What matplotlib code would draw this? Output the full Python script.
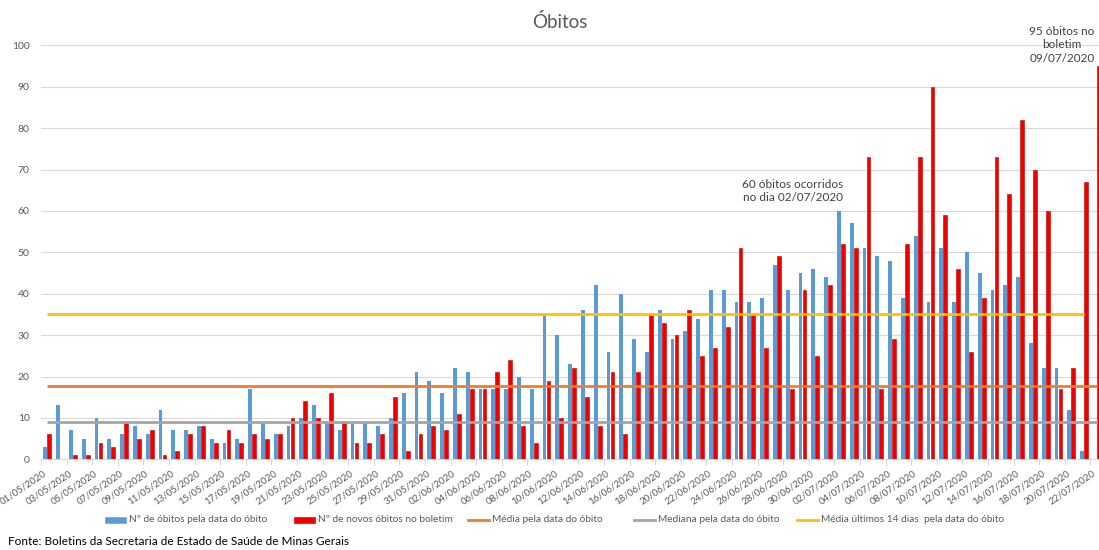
import matplotlib
matplotlib.use("Agg")
import matplotlib.pyplot as plt
from matplotlib.lines import Line2D
from matplotlib.patches import Rectangle
import numpy as np
import pandas as pd

plt.rcParams['font.family'] = ['Lato', 'DejaVu Sans']

dates = [d.strftime('%d/%m/%Y') for d in pd.date_range('2020-05-01', '2020-07-22')]

obitos_data = [3, 13, 7, 5, 10, 5, 6, 8, 6, 12, 7, 7, 8, 5, 4, 5, 17, 9, 6,
               8, 10, 13, 9, 7, 9, 9, 8, 10, 16, 21, 19, 16, 22, 21, 17, 17, 17, 20, 17,
               35, 30, 23, 36, 42, 26, 40, 29, 26, 36, 29, 31, 34, 41, 41, 38, 38, 39, 47, 41, 45, 46,
               44, 60, 57, 51, 49, 48, 39, 54, 38, 51, 38, 50, 45, 41, 42, 44, 28, 22, 22, 12, 2, 0]
novos_boletim = [6, 0, 1, 1, 4, 3, 9, 5, 7, 1, 2, 6, 8, 4, 7, 4, 6, 5, 6,
                 10, 14, 10, 16, 9, 4, 4, 6, 15, 2, 6, 8, 7, 11, 17, 17, 21, 24, 8, 4,
                 19, 10, 22, 15, 8, 21, 6, 21, 35, 33, 30, 36, 25, 27, 32, 51, 35, 27, 49, 17, 41, 25,
                 42, 52, 51, 73, 17, 29, 52, 73, 90, 59, 46, 26, 39, 73, 64, 82, 70, 60, 17, 22, 67, 95]
media = 17.6
mediana = 9
media_14 = 35

series_names = ['Nº de óbitos pela data do óbito', 'Nº de novos óbitos no boletim',
                'Média pela data do óbito', 'Mediana pela data do óbito',
                'Média últimos 14 dias  pela data do óbito']
series_colors = ['#5B9BD5', '#EE0000', '#ED7D31', '#A5A5A5', '#FFC000']

W, H = 1099, 550
fig = plt.figure(figsize=(W / 100, H / 100), dpi=100)
left_px, right_px = 40.9, 1103.3
bottom_px, top_px = 459.3, 45.3
ax = fig.add_axes([left_px / W, 1 - bottom_px / H, (right_px - left_px) / W, (bottom_px - top_px) / H])

n = len(dates)
x = np.arange(n)
bw = 0.29
ax.bar(x - 0.155, obitos_data, width=bw, color=series_colors[0], zorder=3)
ax.bar(x + 0.155, novos_boletim, width=bw, color=series_colors[1], edgecolor='#C00000', linewidth=0.4, zorder=3)

ax.plot([0, n - 1], [media, media], color=series_colors[2], lw=2.0, zorder=4, solid_capstyle='butt')
ax.plot([0, n - 1], [mediana, mediana], color=series_colors[3], lw=2.0, zorder=4, solid_capstyle='butt')
ax.plot([0, n - 2], [media_14, media_14], color=series_colors[4], lw=2.0, zorder=4, solid_capstyle='butt')

ax.set_xlim(-0.5, n - 0.5)
ax.set_ylim(0, 100)
ax.set_yticks(range(0, 101, 10))
ax.yaxis.grid(True, color='#D9D9D9', lw=0.8, zorder=0)
ax.tick_params(axis='y', length=0, labelsize=7.5, labelcolor='#595959', pad=8)
for s in ['top', 'right', 'left']:
    ax.spines[s].set_visible(False)
ax.spines['bottom'].set_color('#D9D9D9')

ax.set_xticks(np.arange(-0.5, n, 2))
ax.set_xticklabels([])
ax.tick_params(axis='x', length=4, color='#D9D9D9')
for i in range(0, n, 2):
    ax.text(i - 0.35, -2.2, dates[i], rotation=34, rotation_mode='anchor', ha='right', va='top',
            fontsize=7.0, color='#595959', clip_on=False)

fig.text(560 / W, 1 - 22 / H, 'Óbitos', ha='center', va='center', fontsize=13.5, color='#595959')
fig.text(793 / W, 1 - 191 / H, '60 óbitos ocorridos\nno dia 02/07/2020', ha='center', va='center',
         fontsize=8.5, color='#404040', linespacing=1.25)
fig.text(1062 / W, 1 - 45 / H, '95 óbitos no\nboletim\n09/07/2020', ha='center', va='center',
         fontsize=8.5, color='#404040', linespacing=1.25)

# legend drawn manually (spacing as in the reference)
leg_y = 520
leg_starts = [105, 294, 468, 634, 797]
for k, (name, col) in enumerate(zip(series_names, series_colors)):
    sx = leg_starts[k]
    if k < 2:
        fig.patches.append(Rectangle((sx / W, 1 - (leg_y + 3) / H), 21 / W, 6 / H,
                                     transform=fig.transFigure, facecolor=col,
                                     edgecolor='#C00000' if k == 1 else col, lw=0.4))
    else:
        fig.lines.append(Line2D([sx / W, (sx + 21) / W], [1 - leg_y / H, 1 - leg_y / H],
                                transform=fig.transFigure, color=col, lw=2))
    fig.text((sx + 24) / W, 1 - leg_y / H, name, ha='left', va='center', fontsize=7.3, color='#595959')

fig.text(8 / W, 1 - 545 / H, 'Fonte: Boletins da Secretaria de Estado de Saúde de Minas Gerais',
         ha='left', va='baseline', fontsize=8.5, color='#000000')

fig.savefig('out.png', dpi=100)
